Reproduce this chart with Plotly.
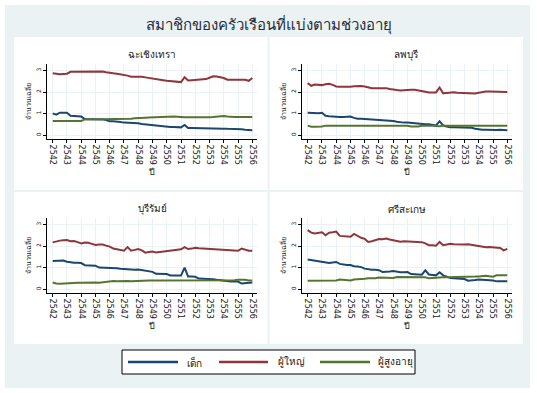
import plotly.graph_objects as go

W, H = 537, 393

# ---------------- data (quarterly, 2542.00 .. 2556.00) ----------------
years_start = 2542
n_points = 57
x_years = [years_start + 0.25 * i for i in range(n_points)]
tick_years = list(range(2542, 2557))
y_ticks = [0, 1, 2, 3]

series_names = ["เด็ก", "ผู้ใหญ่", "ผู้สูงอายุ"]
series_colors = ["#1a476f", "#90353b", "#55752f"]
panel_titles = ["ฉะเชิงเทรา", "ลพบุรี", "บุรีรัมย์", "ศรีสะเกษ"]

# ฉะเชิงเทรา
p1_child = [1.01, 0.95, 1.04, 1.04, 1.04, 0.90, 0.89, 0.88, 0.86, 0.75, 0.75, 0.74,
            0.74, 0.73, 0.73, 0.70, 0.64, 0.64, 0.64, 0.61, 0.58, 0.58, 0.58, 0.57,
            0.55, 0.52, 0.50, 0.48, 0.47, 0.45, 0.42, 0.41, 0.39, 0.38, 0.38, 0.37,
            0.36, 0.47, 0.33, 0.33, 0.33, 0.33, 0.33, 0.33, 0.33, 0.31, 0.30, 0.30,
            0.30, 0.29, 0.29, 0.29, 0.28, 0.27, 0.25, 0.24, 0.23]
p1_adult = [2.87, 2.84, 2.83, 2.84, 2.85, 2.94, 2.94, 2.94, 2.94, 2.95, 2.95, 2.96,
            2.96, 2.96, 2.95, 2.92, 2.88, 2.87, 2.85, 2.83, 2.80, 2.76, 2.71, 2.72,
            2.73, 2.71, 2.68, 2.66, 2.63, 2.62, 2.60, 2.55, 2.52, 2.51, 2.49, 2.47,
            2.46, 2.69, 2.54, 2.55, 2.57, 2.59, 2.60, 2.60, 2.66, 2.73, 2.72, 2.68,
            2.65, 2.57, 2.57, 2.57, 2.57, 2.58, 2.57, 2.52, 2.65]
p1_elder = [0.65, 0.65, 0.65, 0.65, 0.65, 0.65, 0.66, 0.66, 0.66, 0.73, 0.73, 0.74,
            0.74, 0.74, 0.75, 0.75, 0.75, 0.75, 0.75, 0.76, 0.76, 0.76, 0.76, 0.78,
            0.78, 0.79, 0.81, 0.82, 0.83, 0.83, 0.83, 0.84, 0.84, 0.85, 0.86, 0.85,
            0.83, 0.83, 0.83, 0.83, 0.83, 0.81, 0.80, 0.82, 0.83, 0.84, 0.85, 0.87,
            0.89, 0.86, 0.84, 0.84, 0.84, 0.84, 0.84, 0.84, 0.84]

# ลพบุรี
p2_child = [1.04, 1.02, 1.00, 1.01, 1.04, 0.90, 0.88, 0.86, 0.84, 0.84, 0.84, 0.86,
            0.86, 0.80, 0.76, 0.76, 0.75, 0.72, 0.70, 0.70, 0.70, 0.68, 0.67, 0.66,
            0.65, 0.62, 0.59, 0.58, 0.58, 0.56, 0.54, 0.52, 0.51, 0.51, 0.51, 0.48,
            0.45, 0.64, 0.45, 0.40, 0.36, 0.36, 0.36, 0.35, 0.34, 0.34, 0.34, 0.30,
            0.26, 0.25, 0.25, 0.24, 0.23, 0.24, 0.25, 0.24, 0.23]
p2_adult = [2.41, 2.29, 2.35, 2.33, 2.32, 2.36, 2.38, 2.33, 2.26, 2.25, 2.24, 2.24,
            2.24, 2.27, 2.29, 2.28, 2.26, 2.22, 2.18, 2.18, 2.18, 2.18, 2.18, 2.14,
            2.10, 2.09, 2.07, 2.09, 2.10, 2.10, 2.10, 2.08, 2.05, 2.01, 1.98, 1.98,
            1.98, 2.21, 1.94, 1.96, 1.99, 1.99, 1.97, 1.96, 1.94, 1.93, 1.91, 1.93,
            1.97, 2.00, 2.02, 2.02, 2.02, 2.02, 2.03, 2.01, 2.00]
p2_elder = [0.44, 0.39, 0.39, 0.39, 0.40, 0.44, 0.44, 0.44, 0.44, 0.44, 0.44, 0.44,
            0.44, 0.44, 0.44, 0.44, 0.44, 0.44, 0.44, 0.44, 0.44, 0.44, 0.44, 0.44,
            0.44, 0.44, 0.44, 0.44, 0.43, 0.40, 0.39, 0.40, 0.43, 0.44, 0.44, 0.43,
            0.42, 0.41, 0.44, 0.44, 0.44, 0.44, 0.44, 0.44, 0.44, 0.44, 0.44, 0.44,
            0.44, 0.44, 0.44, 0.44, 0.44, 0.44, 0.44, 0.44, 0.44]

# บุรีรัมย์
p3_child = [1.31, 1.31, 1.33, 1.33, 1.27, 1.23, 1.22, 1.22, 1.21, 1.11, 1.10, 1.10,
            1.09, 1.00, 1.00, 1.00, 0.98, 0.97, 0.97, 0.95, 0.94, 0.90, 0.89, 0.90,
            0.91, 0.88, 0.85, 0.82, 0.80, 0.71, 0.71, 0.71, 0.70, 0.63, 0.63, 0.63,
            0.63, 1.00, 0.58, 0.58, 0.57, 0.49, 0.49, 0.49, 0.48, 0.46, 0.43, 0.41,
            0.38, 0.35, 0.35, 0.35, 0.35, 0.26, 0.28, 0.30, 0.31]
p3_adult = [2.17, 2.22, 2.25, 2.27, 2.28, 2.22, 2.23, 2.18, 2.12, 2.16, 2.15, 2.10,
            2.05, 2.07, 2.07, 2.02, 1.97, 1.88, 1.85, 1.83, 1.78, 1.95, 1.78, 1.82,
            1.86, 1.80, 1.69, 1.72, 1.74, 1.70, 1.72, 1.74, 1.74, 1.76, 1.78, 1.82,
            1.85, 1.95, 1.86, 1.88, 1.92, 1.90, 1.89, 1.89, 1.88, 1.88, 1.87, 1.85,
            1.83, 1.83, 1.82, 1.80, 1.78, 1.88, 1.82, 1.78, 1.78]
p3_elder = [0.31, 0.26, 0.25, 0.26, 0.29, 0.29, 0.29, 0.29, 0.29, 0.30, 0.30, 0.30,
            0.31, 0.30, 0.32, 0.33, 0.38, 0.38, 0.37, 0.38, 0.38, 0.38, 0.36, 0.37,
            0.40, 0.40, 0.40, 0.40, 0.40, 0.40, 0.40, 0.40, 0.40, 0.40, 0.40, 0.40,
            0.40, 0.40, 0.40, 0.40, 0.40, 0.40, 0.40, 0.40, 0.40, 0.40, 0.40, 0.40,
            0.40, 0.40, 0.40, 0.41, 0.44, 0.45, 0.43, 0.40, 0.40]

# ศรีสะเกษ
p4_child = [1.37, 1.34, 1.32, 1.30, 1.24, 1.22, 1.21, 1.24, 1.26, 1.17, 1.14, 1.12,
            1.12, 1.06, 1.05, 1.02, 0.95, 0.92, 0.90, 0.90, 0.88, 0.79, 0.79, 0.82,
            0.84, 0.80, 0.78, 0.78, 0.79, 0.70, 0.70, 0.69, 0.67, 0.87, 0.68, 0.66,
            0.64, 0.78, 0.64, 0.58, 0.51, 0.50, 0.50, 0.48, 0.47, 0.39, 0.39, 0.42,
            0.45, 0.44, 0.44, 0.42, 0.40, 0.36, 0.36, 0.36, 0.36]
p4_adult = [2.74, 2.62, 2.58, 2.60, 2.64, 2.50, 2.62, 2.64, 2.67, 2.47, 2.45, 2.44,
            2.43, 2.56, 2.45, 2.38, 2.33, 2.19, 2.22, 2.28, 2.32, 2.31, 2.35, 2.30,
            2.26, 2.23, 2.20, 2.22, 2.21, 2.18, 2.19, 2.18, 2.18, 2.12, 2.04, 2.03,
            2.01, 2.19, 2.04, 2.07, 2.10, 2.08, 2.07, 2.07, 2.07, 2.08, 2.05, 2.02,
            2.01, 1.98, 1.94, 1.95, 1.93, 1.93, 1.91, 1.80, 1.87]
p4_elder = [0.39, 0.39, 0.39, 0.39, 0.39, 0.39, 0.39, 0.39, 0.40, 0.45, 0.44, 0.41,
            0.40, 0.45, 0.45, 0.46, 0.48, 0.50, 0.50, 0.51, 0.54, 0.54, 0.54, 0.52,
            0.52, 0.56, 0.56, 0.56, 0.56, 0.56, 0.56, 0.56, 0.56, 0.55, 0.50, 0.52,
            0.54, 0.55, 0.55, 0.55, 0.55, 0.55, 0.56, 0.57, 0.58, 0.58, 0.58, 0.58,
            0.59, 0.61, 0.62, 0.60, 0.58, 0.64, 0.64, 0.64, 0.64]

panels = [
    (p1_child, p1_adult, p1_elder),
    (p2_child, p2_adult, p2_elder),
    (p3_child, p3_adult, p3_elder),
    (p4_child, p4_adult, p4_elder),
]

# ---------------- layout geometry (pixels) ----------------
def px_x(v):
    return v / W

def px_y(v):
    return 1 - v / H

x_doms = [(47, 257), (302, 512), (47, 257), (302, 512)]
y_doms = [(64, 139), (64, 139), (218, 293), (218, 293)]
title_y = [55, 55, 209, 209]
xtitle_y = [172, 172, 326, 326]
ytitle_x = [28, 283, 28, 283]

FONT = "DejaVu Sans, Noto Sans, sans-serif"
GRID = "#eaf2f3"
TXT = "#151515"

fig = go.Figure()
annotations = []

for p, series in enumerate(panels):
    ax = "" if p == 0 else str(p + 1)
    for s, vals in enumerate(series):
        fig.add_trace(go.Scatter(
            x=x_years, y=vals, mode="lines",
            line=dict(color=series_colors[s], width=2),
            name=series_names[s], showlegend=False,
            xaxis="x" + ax, yaxis="y" + ax,
        ))
    xd, yd = x_doms[p], y_doms[p]
    fig.update_layout(**{
        "xaxis" + ax: dict(
            domain=[px_x(xd[0]), px_x(xd[1])], anchor="y" + ax,
            range=[2541.6, 2556.33], tickvals=tick_years,
            ticktext=[str(t) for t in tick_years], tickangle=90,
            tickfont=dict(size=8, color=TXT, family=FONT),
            showline=True, linecolor="black", linewidth=1,
            ticks="outside", ticklen=3, tickcolor="black",
            showgrid=True, gridcolor=GRID, gridwidth=1, zeroline=False,
        ),
        "yaxis" + ax: dict(
            domain=[px_y(yd[1]), px_y(yd[0])], anchor="x" + ax,
            range=[-0.18, 3.3], tickvals=y_ticks, tickangle=-90,
            tickfont=dict(size=6, color=TXT, family=FONT),
            showline=True, linecolor="black", linewidth=1,
            ticks="outside", ticklen=3, tickcolor="black",
            showgrid=True, gridcolor=GRID, gridwidth=1, zeroline=False,
        ),
    })
    cx = (px_x(xd[0]) + px_x(xd[1])) / 2
    annotations.append(dict(
        x=cx, y=px_y(title_y[p]), xref="paper", yref="paper", text=panel_titles[p],
        showarrow=False, font=dict(size=10, color="#222", family=FONT),
        xanchor="center", yanchor="middle"))
    annotations.append(dict(
        x=cx, y=px_y(xtitle_y[p]), xref="paper", yref="paper", text="ปี",
        showarrow=False, font=dict(size=9, color=TXT, family=FONT),
        xanchor="center", yanchor="middle"))
    annotations.append(dict(
        x=px_x(ytitle_x[p]), y=(px_y(yd[0]) + px_y(yd[1])) / 2, xref="paper", yref="paper",
        text="จำนวนเฉลี่ย", textangle=-90, showarrow=False,
        font=dict(size=7, color=TXT, family=FONT), xanchor="center", yanchor="middle"))

# main title
annotations.append(dict(
    x=0.5, y=px_y(25), xref="paper", yref="paper",
    text="สมาชิกของครัวเรือนที่แบ่งตามช่วงอายุ", showarrow=False,
    font=dict(size=15, color="#1e2d40", family=FONT), xanchor="center", yanchor="middle"))

shapes = [
    dict(type="rect", xref="paper", yref="paper", x0=px_x(5), x1=px_x(530),
         y0=px_y(388), y1=px_y(5), fillcolor="#eaf2f3", line=dict(width=0), layer="below"),
    dict(type="rect", xref="paper", yref="paper", x0=px_x(14), x1=px_x(523),
         y0=px_y(344), y1=px_y(37), fillcolor="white", line=dict(width=0), layer="below"),
    dict(type="line", xref="paper", yref="paper", x0=px_x(268.5), x1=px_x(268.5),
         y0=px_y(344), y1=px_y(37), line=dict(color="#eaf2f3", width=2), layer="below"),
    dict(type="line", xref="paper", yref="paper", x0=px_x(14), x1=px_x(523),
         y0=px_y(191), y1=px_y(191), line=dict(color="#eaf2f3", width=2), layer="below"),
    # legend box
    dict(type="rect", xref="paper", yref="paper", x0=px_x(122), x1=px_x(415),
         y0=px_y(374), y1=px_y(350), fillcolor="white", line=dict(color="black", width=1)),
]

legend_line_x = [(128, 178), (219, 268), (320, 370)]
legend_text_x = [185, 276, 376]
for s in range(3):
    shapes.append(dict(type="line", xref="paper", yref="paper",
                       x0=px_x(legend_line_x[s][0]), x1=px_x(legend_line_x[s][1]),
                       y0=px_y(362), y1=px_y(362),
                       line=dict(color=series_colors[s], width=2.5)))
    annotations.append(dict(
        x=px_x(legend_text_x[s]), y=px_y(362), xref="paper", yref="paper",
        text=series_names[s], showarrow=False,
        font=dict(size=10, color=TXT, family=FONT), xanchor="left", yanchor="middle"))

fig.update_layout(
    width=W, height=H,
    margin=dict(l=0, r=0, t=0, b=0),
    paper_bgcolor="white", plot_bgcolor="white",
    shapes=shapes, annotations=annotations,
    font=dict(family=FONT),
    showlegend=False,
)

fig.write_html(
    "out.html",
    config={"displayModeBar": False},
    post_script="document.body.style.margin='0';document.body.style.padding='0';"
                "document.documentElement.style.overflow='hidden';",
)
